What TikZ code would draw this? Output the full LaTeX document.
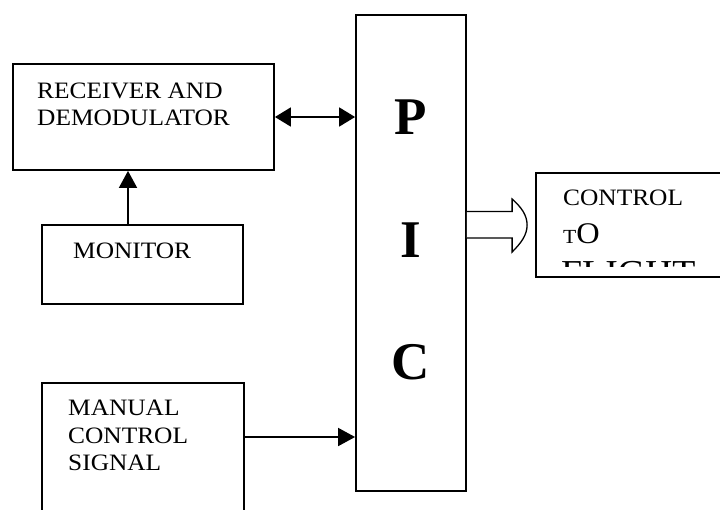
\documentclass[tikz,border=0pt]{standalone}
\usepackage{fontspec}
\setmainfont{Liberation Serif}
\newfontfamily\boxfont[FakeStretch=1.08]{Liberation Serif}
\usetikzlibrary{arrows.meta,calc}

\tikzset{
  blockbox/.style={draw=black, line width=1.8pt, rectangle, inner sep=0pt, fill=none},
  boxtext/.style={inner sep=0pt, align=left, text=black,
    font=\boxfont\fontsize{23.5}{27}\selectfont},
  pictext/.style={inner sep=0pt, text=black,
    font=\bfseries\fontsize{53}{53}\selectfont},
  link/.style={draw=black, line width=1.8pt, -{Triangle[length=17pt,width=18pt]}},
  twoway/.style={draw=black, line width=1.8pt,
    {Triangle[length=16pt,width=19pt]}-{Triangle[length=16pt,width=19pt]}},
  hollowarrow/.style={draw=black, line width=1.3pt, fill=white, line join=miter}
}

\begin{document}
\begin{tikzpicture}[x=1pt, y=-1pt]
  \clip (0,0) rectangle (720,509);
  \fill[white] (0,0) rectangle (720,509);

  % blocks
  \node[blockbox, minimum width=261pt, minimum height=106pt] (rx)  at (143.5,117) {};
  \node[blockbox, minimum width=201pt, minimum height=79pt]  (mon) at (142.5,264.5) {};
  \node[blockbox, minimum width=202pt, minimum height=177pt] (man) at (143,471.5) {};
  \node[blockbox, minimum width=110pt, minimum height=476pt] (pic) at (411,253) {};
  \node[blockbox, minimum width=224pt, minimum height=104pt] (ctl) at (648,225) {};

  % block labels
  \node[boxtext, anchor=north west] (rxlabel) at (37,83) {RECEIVER AND\\DEMODULATOR};
  \node[boxtext, anchor=north west] (monlabel) at (73,243) {MONITOR};
  \node[boxtext, anchor=north west, font=\boxfont\fontsize{23.5}{27.5}\selectfont]
    (manlabel) at (68,400) {MANUAL\\CONTROL\\SIGNAL};

  \node[pictext] (picP) at (411,117.5) {P};
  \node[pictext] (picI) at (411,240.5) {I};
  \node[pictext] (picC) at (411,362.5) {C};

  \node[boxtext, anchor=base west] (ctl1) at (563,205) {CONTROL};
  \node[boxtext, anchor=base west] (ctl2) at (563,243)
    {{\fontsize{20}{20}\selectfont T}{\fontsize{30}{30}\selectfont O}};
  \begin{scope}
    \clip (536,173) rectangle (720,266);
    \node[boxtext, anchor=base west, font=\boxfont\fontsize{35}{35}\selectfont]
      (ctl3) at (561,284) {FLIGHT};
  \end{scope}

  % connectors
  \draw[twoway] (rx.east) -- (rx.east -| pic.west);
  \draw[link] ([xshift=-14.5pt]mon.north) -- ([xshift=-14.5pt]mon.north |- rx.south);
  \draw[link] ([yshift=34.5pt]man.east) -- ([yshift=34.5pt]man.east -| pic.west);

  % wide hollow arrow from the PIC to the output block
  \coordinate (hs) at (pic.east |- ctl.west);
  \coordinate (ht) at ($(ctl.west)+(-8,0)$);
  \draw[hollowarrow]
    ($(hs)+(0,-13.5)$) -- ($(ht)+(-15,-13.5)$) -- ($(ht)+(-15,-26)$)
    .. controls ($(ht)+(-6,-18)$) and ($(ht)+(0,-10)$) .. (ht)
    .. controls ($(ht)+(0,10)$) and ($(ht)+(-6,18)$) .. ($(ht)+(-15,27)$)
    -- ($(ht)+(-15,13)$) -- ($(hs)+(0,13)$);
\end{tikzpicture}
\end{document}
